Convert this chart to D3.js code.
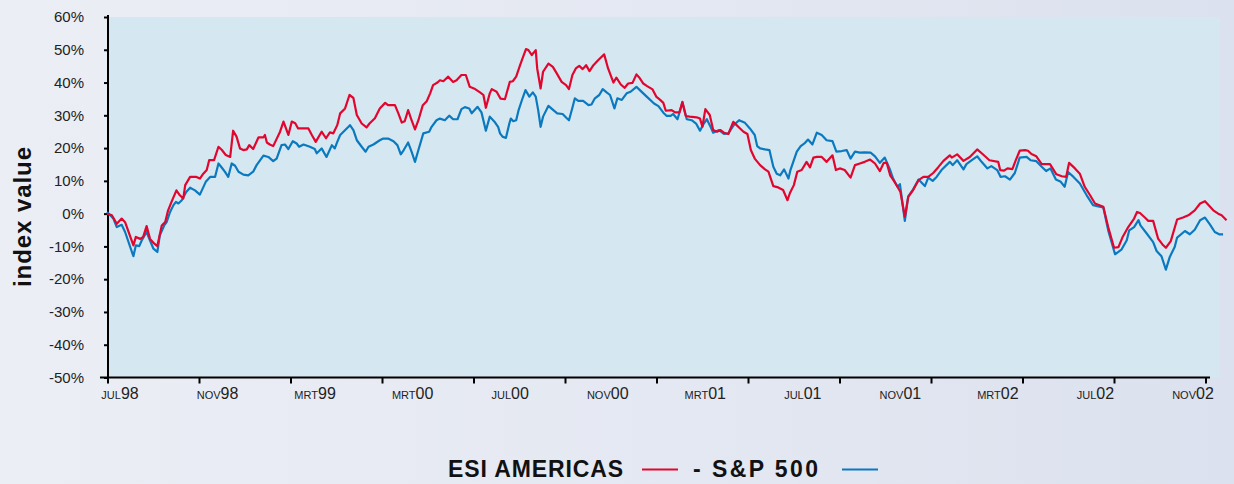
<!DOCTYPE html>
<html>
<head>
<meta charset="utf-8">
<script src="https://cdn.jsdelivr.net/npm/d3@7"></script>
<style>
  html, body { margin: 0; padding: 0; }
  body { width: 1234px; height: 484px; overflow: hidden;
         background: linear-gradient(90deg, #eceef5 0%, #e4e8f2 55%, #dbe1ee 100%); }
  text { font-family: "Liberation Sans", Arial, sans-serif; }
</style>
</head>
<body>
<div id="chart"></div>
<script>
// weeks since start (jul 1998), index value in %
let esi = [
  [0,0],[1,-0.5],[2,-3.1],[3,-1.5],[3.7,-2.6],[5.4,-9.7],[5.9,-7.1],[6.8,-7.7],[7.4,-7.1],
  [8.1,-3.8],[8.8,-7.7],[9.5,-8.9],[10.3,-9.9],[11.2,-3.6],[11.9,-2.6],[12.5,1.0],[13.2,3.6],
  [14.2,7.1],[14.9,5.6],[15.6,4.6],[16.0,8.7],[17.0,11.2],[18.3,11.2],[19.0,10.7],[19.7,12.2],
  [20.4,13.3],[20.9,16.3],[21.9,16.3],[22.8,20.4],[23.5,19.4],[24.3,17.9],[25.2,17.3],[25.8,25.3],
  [26.5,23.5],[27.2,19.9],[27.9,19.4],[28.6,19.6],[29.1,20.9],[29.9,19.7],[31.0,23.3],[32.0,23.3],
  [32.3,24.0],[32.7,21.7],[33.3,21.1],[34.0,20.6],[35.4,25.0],[36.1,28.1],[37.1,24.0],[37.8,28.1],
  [38.5,27.6],[39.1,26.0],[41.2,26.0],[41.9,24.0],[42.7,21.9],[43.9,25.0],[44.8,23.0],[45.6,24.8],
  [46.3,24.5],[47.1,27.0],[47.7,30.6],[48.7,32.1],[49.6,36.2],[50.4,35.3],[51.1,30.1],[52.1,27.5],
  [53.1,26.3],[53.7,27.5],[54.8,29.1],[55.8,32.1],[56.9,33.8],[57.5,33.1],[58.9,33.1],[59.6,30.6],
  [60.3,27.8],[60.9,28.2],[61.6,31.6],[62.3,28.5],[63.0,25.7],[63.7,28.5],[64.6,33.1],[65.4,34.3],
  [66.1,36.7],[66.7,39.2],[67.6,40.0],[68.1,40.7],[68.8,40.4],[69.8,41.8],[70.8,40.2],[71.5,40.7],
  [72.5,42.3],[73.4,42.3],[74.2,38.7],[75.3,38.0],[76.3,37.0],[77.0,36.2],[77.5,32.3],[78.3,36.7],
  [78.7,38.0],[79.7,37.2],[80.5,35.1],[81.4,34.9],[82.4,40.2],[83.0,40.4],[83.7,41.8],[84.5,45.3],
  [85.0,47.4],[85.7,50.2],[86.2,49.9],[86.9,48.4],[87.7,49.9],[88.0,44.3],[88.7,38.2],[89.2,43.3],
  [90.3,45.8],[91.2,44.8],[92.0,42.8],[93.0,40.2],[93.9,39.2],[94.5,38.0],[95.2,42.3],[95.9,44.3],
  [96.6,45.1],[97.3,44.1],[98.0,45.3],[98.7,43.5],[99.5,45.3],[100.5,46.9],[101.7,48.6],[102.5,44.3],
  [103.6,40.0],[104.2,41.5],[105.1,39.4],[105.9,38.4],[106.6,39.7],[107.5,39.9],[108.3,42.5],
  [109.0,41.3],[109.7,39.7],[110.4,39.0],[111.6,37.9],[112.4,35.6],[113.1,34.8],[113.8,33.8],
  [114.3,31.4],[115.5,31.6],[116.2,30.9],[117.1,30.9],[117.7,34.1],[118.4,29.8],[119.2,29.6],
  [120.6,29.4],[121.3,29.0],[121.8,26.5],[122.4,31.9],[123.3,30.1],[124.0,25.5],[124.8,25.0],
  [125.5,25.5],[126.2,24.7],[127.1,24.3],[128.1,28.0],[129.5,26.0],[130.2,25.0],[131.0,24.3],
  [131.7,19.4],[132.5,16.8],[133.6,14.8],[134.6,13.5],[135.3,12.8],[136.3,8.4],[137.3,8.0],
  [138.3,7.2],[139.2,4.1],[139.7,6.3],[140.5,8.7],[141.2,12.8],[142.1,13.3],[143.1,15.8],
  [143.8,14.1],[144.5,17.1],[145.2,17.3],[146.2,17.3],[147.2,15.8],[148.4,17.8],[149.1,13.3],
  [149.9,13.8],[150.9,13.3],[152.1,11.0],[153.0,14.8],[154.0,15.3],[155.0,15.8],[156.1,16.5],
  [157.1,15.3],[158.1,13.0],[158.9,15.5],[159.5,15.5],[160.2,11.7],[160.8,10.4],[161.7,8.2],
  [162.3,6.6],[163.2,-1.0],[163.9,5.1],[164.9,7.2],[166.0,10.2],[167.0,11.2],[168.0,11.2],
  [169.0,12.4],[170.0,14.1],[171.1,16.1],[172.4,17.8],[172.8,17.1],[173.9,18.1],[175.2,16.1],
  [176.5,17.3],[178.0,19.6],[179.1,18.2],[180.5,16.3],[182.3,15.8],[182.7,13.3],[183.5,13.1],
  [184.2,13.8],[185.2,13.6],[185.9,16.3],[186.7,19.2],[187.8,19.4],[188.4,19.2],[189.1,18.2],
  [190.1,17.5],[191.2,15.1],[192.9,15.1],[194.2,12.0],[195.3,11.4],[196.2,11.2],[196.8,15.5],
  [198.0,13.8],[199.0,12.2],[200.0,8.2],[201.1,5.6],[202.1,3.1],[203.8,2.1],[204.8,-4.1],
  [206.0,-10.4],[206.9,-10.2],[207.7,-7.3],[208.9,-4.1],[210.1,-1.5],[210.7,0.5],[211.3,0.2],
  [212.3,-1.2],[213.0,-2.2],[214.0,-2.2],[215.0,-7.6],[215.9,-9.4],[216.6,-10.4],[217.6,-8.4],
  [218.9,-1.8],[220.1,-1.2],[221.2,-0.5],[222.5,1.0],[223.6,3.1],[224.6,3.8],[226.3,1.0],
  [227.3,0.0],[228.0,-0.5],[229.0,-2.0]
]

let sp500 = [
  [0,0.5],[1.3,-1.5],[2.0,-4.1],[3.0,-3.4],[3.7,-5.6],[5.4,-13.0],[5.9,-9.7],[6.6,-9.9],[7.1,-8.2],
  [8.1,-5.6],[8.8,-8.2],[9.5,-10.7],[10.3,-11.7],[10.8,-6.6],[11.7,-3.6],[12.2,-2.6],[12.9,0.5],
  [13.6,2.6],[14.1,3.6],[14.6,3.1],[15.3,4.1],[16.2,6.6],[17.0,7.9],[18.0,7.1],[19.0,5.8],
  [20.2,9.7],[21.1,11.2],[22.1,11.2],[22.8,15.3],[23.5,14.0],[24.1,12.8],[24.8,11.2],[25.5,15.3],
  [26.2,14.6],[26.9,12.8],[27.9,11.9],[28.9,11.7],[29.9,12.8],[30.6,14.8],[32.0,17.7],[33.0,17.3],
  [34.0,16.0],[34.7,16.8],[35.7,20.9],[36.4,21.1],[37.1,19.7],[38.0,22.1],[38.8,21.4],[39.3,20.4],
  [40.2,21.1],[41.5,20.4],[42.5,19.7],[42.9,18.4],[43.9,19.9],[44.9,17.3],[46.0,20.9],[46.6,19.9],
  [47.1,21.9],[47.7,24.0],[49.4,26.5],[49.7,27.0],[50.4,25.5],[51.1,22.4],[52.1,20.4],[52.9,18.9],
  [53.5,20.4],[54.5,21.1],[55.8,22.4],[56.5,22.9],[57.5,22.9],[58.6,22.1],[59.4,20.9],[60.1,18.1],
  [60.7,19.4],[61.6,21.7],[62.3,18.9],[63.0,15.8],[63.7,19.4],[64.7,24.5],[65.9,25.0],[66.4,26.5],
  [67.4,28.5],[68.1,29.0],[69.1,28.5],[70.0,29.9],[70.8,28.8],[71.7,28.8],[72.5,31.9],[73.2,32.5],
  [74.1,32.1],[74.6,30.6],[75.8,32.6],[76.6,30.9],[77.5,25.3],[78.3,29.6],[79.4,27.8],[80.0,26.5],
  [80.4,24.5],[80.9,23.5],[81.6,23.1],[82.3,27.5],[82.6,29.0],[83.1,28.2],[83.7,28.5],[84.2,31.6],
  [85.0,35.2],[85.6,37.7],[86.4,35.7],[87.1,37.0],[87.7,35.7],[88.2,31.6],[88.7,26.5],[89.2,29.6],
  [90.3,32.9],[91.3,31.6],[92.1,30.6],[93.2,30.4],[94.0,29.2],[94.5,28.5],[95.2,32.3],[95.7,35.2],
  [96.4,34.4],[97.4,34.4],[98.5,33.1],[99.1,33.3],[99.8,35.2],[100.7,36.2],[101.4,38.0],[102.2,37.0],
  [102.9,36.2],[103.8,32.1],[104.4,35.2],[105.3,34.7],[106.3,36.7],[107.1,37.2],[108.3,38.7],
  [109.0,37.7],[110.4,35.7],[111.9,33.6],[112.8,32.8],[113.8,30.8],[114.5,29.8],[115.3,29.8],
  [115.8,30.4],[116.7,28.8],[117.7,33.9],[118.6,28.8],[119.6,28.5],[120.5,27.5],[121.3,25.3],
  [122.0,27.3],[122.7,28.8],[123.3,27.0],[124.0,24.7],[125.2,25.5],[126.2,24.3],[127.1,24.5],
  [128.2,27.0],[129.3,28.5],[130.5,27.7],[131.5,26.0],[132.5,24.0],[133.0,20.6],[133.6,19.9],
  [134.6,19.6],[135.5,19.4],[136.3,14.3],[137.0,12.2],[137.7,11.7],[138.5,13.5],[139.4,10.7],
  [139.8,13.3],[141.1,18.9],[141.9,20.6],[142.8,21.6],[143.4,22.6],[144.3,21.1],[145.2,24.7],
  [146.2,24.0],[147.2,22.4],[148.4,22.1],[149.2,18.9],[150.3,19.1],[151.3,19.4],[152.1,16.8],
  [153.0,18.9],[154.0,18.6],[155.0,18.7],[156.2,18.6],[157.1,17.5],[158.1,15.5],[159.1,17.1],
  [160.2,13.3],[160.8,10.7],[161.7,8.2],[162.2,9.0],[163.2,-2.2],[163.9,5.3],[164.9,7.4],
  [166.0,10.4],[167.3,8.4],[168.0,11.0],[168.9,10.0],[169.7,11.2],[170.7,13.3],[172.4,15.8],
  [173.0,14.8],[173.9,16.3],[175.2,13.5],[175.8,15.1],[176.9,16.3],[178.0,17.5],[178.9,15.8],
  [180.1,13.8],[180.9,14.5],[182.1,13.3],[182.8,11.2],[183.7,11.4],[184.7,10.4],[185.7,12.4],
  [186.7,17.1],[188.1,17.3],[188.9,16.3],[190.1,16.0],[191.2,14.3],[192.1,13.0],[193.0,13.8],
  [194.1,10.4],[195.1,9.7],[195.9,8.2],[196.6,12.7],[197.7,11.2],[199.0,9.2],[200.4,5.6],
  [201.7,2.6],[203.0,2.1],[203.8,1.9],[204.8,-5.1],[206.2,-12.4],[207.5,-11.0],[208.6,-8.1],
  [209.1,-5.1],[210.1,-4.1],[211.0,-2.0],[211.4,-3.6],[212.6,-5.9],[214.0,-8.7],[214.7,-11.4],
  [215.7,-13.0],[216.6,-17.1],[217.4,-13.2],[218.4,-10.2],[218.9,-7.3],[220.5,-5.3],[221.5,-6.3],
  [222.5,-4.9],[223.6,-2.0],[224.6,-1.2],[225.6,-3.3],[226.6,-5.6],[227.5,-6.3],[228.3,-6.3]
]

let monthLabels = ["JUL98","NOV98","MRT99","MRT00","JUL00","NOV00","MRT01","JUL01","NOV01","MRT02","JUL02","NOV02"]
let yTicks = [60,50,40,30,20,10,0,-10,-20,-30,-40,-50]
let legendNames = ["ESI AMERICAS", "- S&P 500"]

let width = 1234
let height = 484
let red = "#e2062f"
let blue = "#0b79bf"

let svg = d3.select("#chart")
  .append("svg")
  .attr("width", width)
  .attr("height", height)

let xScale = d3.scaleLinear()
               .domain([0, 229])
               .range([107, 1226.5])

let yScale = d3.scaleLinear()
               .domain([-50, 60])
               .range([377.5, 17])

// tick marks and labels are not aligned in the original
let tickScale = d3.scalePoint()
                  .domain(d3.range(13))
                  .range([107.5, 1205.5])

let labelScale = d3.scalePoint()
                   .domain(monthLabels)
                   .range([120, 1193])

// plot background
svg.append("rect")
   .attr("x", xScale(0) + 1)
   .attr("y", yScale(60))
   .attr("width", 1220 - xScale(0) - 1)
   .attr("height", yScale(-50) - yScale(60))
   .attr("fill", "#d5e8f1")

// y axis
let yAxis = d3.axisLeft(yScale)
              .tickValues(yTicks)
              .tickSize(4)
              .tickSizeOuter(0)
              .tickPadding(20)
              .tickFormat(d => d + "%")

let gy = svg.append("g")
   .attr("transform", `translate(${xScale(0) + 1},0)`)
   .call(yAxis)
gy.select(".domain").remove()
gy.selectAll(".tick line").attr("stroke", "#000").attr("stroke-width", 2)
gy.selectAll(".tick text")
  .attr("fill", "#222")
  .attr("font-size", 15)
  .attr("font-family", "'Liberation Sans', Arial, sans-serif")
gy.append("line")
  .attr("x1", 0).attr("x2", 0)
  .attr("y1", yScale(60) - 2).attr("y2", yScale(-50) + 1)
  .attr("stroke", "#000").attr("stroke-width", 2)

// x axis
let xAxis = d3.axisBottom(tickScale)
              .tickSize(6)
              .tickSizeOuter(0)
              .tickFormat("")

let gx = svg.append("g")
   .attr("transform", `translate(0,${yScale(-50)})`)
   .call(xAxis)
gx.select(".domain").remove()
gx.selectAll(".tick line").attr("stroke", "#000").attr("stroke-width", 2)
gx.append("line")
  .attr("x1", 100).attr("x2", 1210)
  .attr("y1", 0).attr("y2", 0)
  .attr("stroke", "#000").attr("stroke-width", 2)

let labels = svg.append("g")
  .selectAll("text")
  .data(monthLabels)
  .enter()
  .append("text")
  .attr("x", d => labelScale(d))
  .attr("y", 399)
  .attr("text-anchor", "middle")
  .attr("fill", "#222")

labels.append("tspan")
  .attr("font-size", 11)
  .text(d => d.slice(0, 3))
labels.append("tspan")
  .attr("font-size", 16)
  .text(d => d.slice(3))

// y title
svg.append("text")
   .attr("transform", "translate(31,217) rotate(-90)")
   .attr("text-anchor", "middle")
   .attr("font-size", 24)
   .attr("font-weight", "bold")
   .attr("fill", "#111")
   .attr("textLength", 140)
   .attr("lengthAdjust", "spacing")
   .text("index value")

// lines
let line = d3.line()
             .x(d => xScale(d[0]))
             .y(d => yScale(d[1]))

svg.append("path")
   .datum(sp500)
   .attr("d", line)
   .attr("fill", "none")
   .attr("stroke", blue)
   .attr("stroke-width", 2.2)
   .attr("stroke-linejoin", "round")

svg.append("path")
   .datum(esi)
   .attr("d", line)
   .attr("fill", "none")
   .attr("stroke", red)
   .attr("stroke-width", 2.2)
   .attr("stroke-linejoin", "round")

// legend
let legend = svg.append("g")
legend.append("text")
   .attr("x", 448)
   .attr("y", 477)
   .attr("font-size", 23)
   .attr("font-weight", "bold")
   .attr("fill", "#111")
   .attr("textLength", 175)
   .attr("lengthAdjust", "spacing")
   .text(legendNames[0])
legend.append("line")
   .attr("x1", 642).attr("x2", 678)
   .attr("y1", 469.5).attr("y2", 469.5)
   .attr("stroke", red).attr("stroke-width", 2.2)
legend.append("text")
   .attr("x", 693)
   .attr("y", 477)
   .attr("font-size", 23)
   .attr("font-weight", "bold")
   .attr("fill", "#111")
   .attr("textLength", 125)
   .attr("lengthAdjust", "spacing")
   .text(legendNames[1])
legend.append("line")
   .attr("x1", 842).attr("x2", 878)
   .attr("y1", 469.5).attr("y2", 469.5)
   .attr("stroke", blue).attr("stroke-width", 2.2)
</script>
</body>
</html>
